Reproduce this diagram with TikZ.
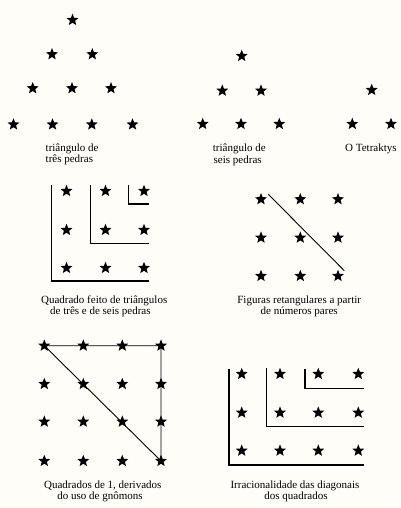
\documentclass[tikz,border=0pt]{standalone}
\usepackage{fontspec}
\setmainfont{Liberation Serif}
\usetikzlibrary{shapes.geometric}
\begin{document}
\begin{tikzpicture}[x=1pt,y=-1pt,
  pebble/.style={star,star points=5,star point ratio=2.3,minimum size=12.5pt,inner sep=0pt,fill=black,draw=none},
  gnomon/.style={line width=1.3pt},
  diag/.style={line width=0.9pt},
  captext/.style={inner sep=0pt,font=\fontsize{11}{11.5}\selectfont},
  capl/.style={captext,anchor=base west},
  capc/.style={captext,anchor=base}]
\fill[fill={rgb,255:red,254;green,253;blue,248}] (0,0) rectangle (400,508);
\useasboundingbox (0,0) rectangle (400,508);

% triangle of three
\node[pebble] (t1) at (72.5,20) {};
\node[pebble] (t2) at (52,54.3) {};
\node[pebble] (t3) at (92.3,54.3) {};
\node[pebble] (t4) at (32.7,88.3) {};
\node[pebble] (t5) at (72,88.3) {};
\node[pebble] (t6) at (111,88.3) {};
\node[pebble] (t7) at (13.5,124.5) {};
\node[pebble] (t8) at (52.5,124.5) {};
\node[pebble] (t9) at (91.8,124.5) {};
\node[pebble] (t10) at (132.5,124.5) {};
\node[capl] (c1a) at (45.5,151.5) {triângulo de};
\node[capl] (c1b) at (45.5,162.5) {três pedras};

% triangle of six
\node[pebble] (s1) at (241.7,56) {};
\node[pebble] (s2) at (222.3,90.7) {};
\node[pebble] (s3) at (261,90.7) {};
\node[pebble] (s4) at (202.7,124) {};
\node[pebble] (s5) at (241,124) {};
\node[pebble] (s6) at (279.3,124) {};
\node[capl] (c2a) at (212.7,151.5) {triângulo de};
\node[capl] (c2b) at (213.5,163) {seis pedras};

% tetraktys
\node[pebble] (k1) at (371.7,90) {};
\node[pebble] (k2) at (352.3,124) {};
\node[pebble] (k3) at (391,124) {};
\node[capl] (c3) at (345,151) {O Tetraktys};

% square from triangles
\foreach \i/\x in {1/66.5,2/105.5,3/144}{
  \foreach \j/\y in {1/191,2/230,3/268}{
    \node[pebble] (q\j\i) at (\x,\y) {};
  }
}
\coordinate (qa1) at (51.7,185);
\coordinate (qa2) at (51.7,281);
\coordinate (qa3) at (148.5,281);
\coordinate (qb1) at (90.7,185);
\coordinate (qb2) at (90.7,243.3);
\coordinate (qb3) at (148.5,243.3);
\coordinate (qc1) at (128.7,185);
\coordinate (qc2) at (128.7,204);
\coordinate (qc3) at (148.5,204);
\draw[gnomon] (qa1) -- (qa2) -- (qa3);
\draw[gnomon] (qb1) -- (qb2) -- (qb3);
\draw[gnomon] (qc1) -- (qc2) -- (qc3);
\node[capc] (c4a) at (104.2,303.7) {Quadrado feito de triângulos};
\node[capc] (c4b) at (100.4,314.7) {de três e de seis pedras};

% rectangular figures
\foreach \i/\x in {1/261,2/300.3,3/338}{
  \foreach \j/\y in {1/199.3,2/237.7,3/276}{
    \node[pebble] (r\j\i) at (\x,\y) {};
  }
}
\coordinate (ra) at (268.3,194.3);
\coordinate (rb) at (344.3,270.7);
\draw[diag] (ra) -- (rb);
\node[capc] (c5a) at (299.2,303.7) {Figuras retangulares a partir};
\node[capc] (c5b) at (299.2,314.7) {de números pares};

% squares of 1 (gnomons)
\foreach \i/\x in {1/44.3,2/83.3,3/122.3,4/161}{
  \foreach \j/\y in {1/345.7,2/384,3/421.7,4/461}{
    \node[pebble] (g\j\i) at (\x,\y) {};
  }
}
\draw[diag] (g11.center) -- (g14.center) -- (g44.center) -- cycle;
\node[capc] (c6a) at (102.8,488) {Quadrados de 1, derivados};
\node[capc] (c6b) at (100,499.5) {do uso de gnômons};

% irrationality
\foreach \i/\x in {1/241.7,2/280,3/318.3,4/358.3}{
  \foreach \j/\y in {1/374,2/412.7,3/450.7}{
    \node[pebble] (d\j\i) at (\x,\y) {};
  }
}
\coordinate (da1) at (229,369.3);
\coordinate (da2) at (229,465);
\coordinate (da3) at (364,465);
\coordinate (db1) at (266.7,368);
\coordinate (db2) at (266.7,426.7);
\coordinate (db3) at (364,426.7);
\coordinate (dc1) at (305,369.3);
\coordinate (dc2) at (305,388.3);
\coordinate (dc3) at (364,388.3);
\draw[gnomon] (da1) -- (da2) -- (da3);
\draw[gnomon] (db1) -- (db2) -- (db3);
\draw[gnomon] (dc1) -- (dc2) -- (dc3);
\node[capc] (c7a) at (295,488) {Irracionalidade das diagonais};
\node[capc] (c7b) at (296,499) {dos quadrados};
\end{tikzpicture}
\end{document}
